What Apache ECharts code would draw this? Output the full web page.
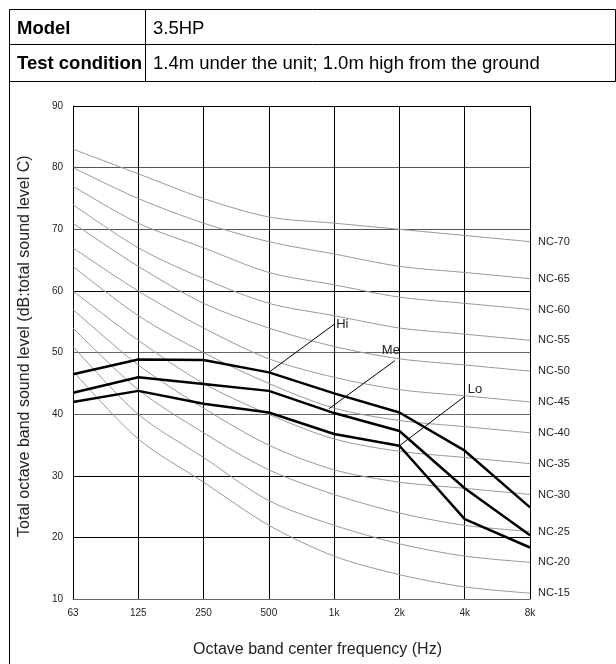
<!DOCTYPE html>
<html>
<head>
<meta charset="utf-8">
<style>
  html, body { margin: 0; padding: 0; background: #fff; }
  #chart { width: 616px; height: 664px; }
</style>
<script src="https://cdn.jsdelivr.net/npm/echarts@6/dist/echarts.min.js"></script>
</head>
<body>
<div id="chart"></div>
<script>
// octave band centre frequencies
const freqs = ['63', '125', '250', '500', '1k', '2k', '4k', '8k'];

// NC reference curves (dB at each band)
const ncNames = ['NC-70', 'NC-65', 'NC-60', 'NC-55', 'NC-50', 'NC-45', 'NC-40', 'NC-35', 'NC-30', 'NC-25', 'NC-20', 'NC-15'];
const ncValues = [
  [83, 79, 75, 72, 71, 70, 69, 68],
  [80, 75, 71, 68, 66, 64, 63, 62],
  [77, 71, 67, 63, 61, 59, 58, 57],
  [74, 67, 62, 58, 56, 54, 53, 52],
  [71, 64, 58, 54, 51, 49, 48, 47],
  [67, 60, 54, 49, 46, 44, 43, 42],
  [64, 56, 50, 45, 41, 39, 38, 37],
  [60, 52, 45, 40, 36, 34, 33, 32],
  [57, 48, 41, 35, 31, 29, 28, 27],
  [54, 44, 37, 31, 27, 24, 22, 21],
  [51, 40, 33, 26, 22, 19, 17, 16],
  [47, 36, 29, 22, 17, 14, 12, 11]
];

// measured sound levels per fan speed
const hi = [46.5, 48.9, 48.8, 46.8, 43.4, 40.3, 34.1, 24.9];
const me = [43.5, 46.0, 44.9, 43.8, 40.2, 37.3, 28.0, 20.4];
const lo = [42.0, 43.8, 41.7, 40.3, 36.8, 34.9, 23.0, 18.4];

// leader lines for the Hi / Me / Lo labels: [band index, dB]
const hiLeader = [[3, 46.8], [4, 54.6]];
const meLeader = [[3.92, 40.9], [4.93, 48.7]];
const loLeader = [[5, 34.9], [6, 42.9]];

// header table texts
const tableRows = [
  ['Model', '3.5HP'],
  ['Test condition', '1.4m under the unit; 1.0m high from the ground']
];

const font = '"Liberation Sans", Arial, sans-serif';
const chart = echarts.init(document.getElementById('chart'));

const ncSeries = ncNames.map((name, i) => ({
  name: name,
  type: 'line',
  data: ncValues[i],
  smooth: 0.3,
  symbol: 'none',
  lineStyle: { color: '#999', width: 1 },
  endLabel: {
    show: true,
    formatter: '{a}',
    distance: 8,
    fontSize: 11,
    color: '#222',
    fontFamily: font
  },
  silent: true,
  z: 2
}));

const levelSeries = [hi, me, lo].map((d, i) => ({
  name: ['Hi', 'Me', 'Lo'][i],
  type: 'line',
  data: d,
  symbol: 'none',
  lineStyle: { color: '#000', width: 2.5 },
  z: 4
}));

// thin leader line, text label sits on its upper end
const leader = (pts, text, label) => ({
  type: 'line',
  xAxisIndex: 1,
  symbol: 'circle',
  symbolSize: 0,
  showSymbol: true,
  lineStyle: { color: '#000', width: 1 },
  data: [
    pts[0],
    { value: pts[1], label: Object.assign({ show: true, formatter: text, fontSize: 13, color: '#222', fontFamily: font }, label) }
  ],
  z: 5
});

// table frame lines
const L = 9.5, R = 615.5, T = 9.5, R1 = 44.5, R2 = 81.5, C = 145.5;
const seg = (x1, y1, x2, y2) => ({
  type: 'line',
  shape: { x1, y1, x2, y2 },
  style: { stroke: '#000', lineWidth: 1 }
});
const tableGraphics = [
  seg(L, T, R, T), seg(L, R1, R, R1), seg(L, R2, R, R2),
  seg(L, T, L, 664), seg(R, T, R, R2), seg(C, T, C, R2)
];
tableRows.forEach((row, i) => {
  const cy = i === 0 ? 29.5 : 64.5;
  tableGraphics.push({
    type: 'text', left: 17, top: cy - 10.5,
    style: { text: row[0], font: 'bold 18.5px ' + font, fill: '#000' }
  });
  tableGraphics.push({
    type: 'text', left: 153, top: cy - 10.5,
    style: { text: row[1], font: '18.5px ' + font, fill: '#000' }
  });
});

const option = {
  animation: false,
  backgroundColor: '#fff',
  graphic: tableGraphics,
  grid: { left: 73, right: 86, top: 106, bottom: 64.7 },
  xAxis: [{
    type: 'category',
    data: freqs,
    boundaryGap: false,
    axisLine: { show: true, lineStyle: { color: '#666', width: 1 } },
    axisTick: { show: false },
    axisLabel: { margin: 9, fontSize: 10, color: '#222', fontFamily: font },
    splitLine: { show: true, lineStyle: { color: '#000', width: 1 } },
    name: 'Octave band center frequency (Hz)',
    nameLocation: 'middle',
    nameGap: 42,
    nameTextStyle: { fontSize: 16, color: '#222', fontFamily: font, padding: [0, 0, 0, 32] }
  }, {
    type: 'value',
    min: 0,
    max: 7,
    show: false
  }],
  yAxis: {
    type: 'value',
    min: 10,
    max: 90,
    interval: 10,
    axisLine: { show: true, lineStyle: { color: '#000', width: 1 } },
    axisTick: { show: false },
    axisLabel: { margin: 10, fontSize: 10, color: '#222', fontFamily: font },
    splitLine: {
      show: true,
      lineStyle: { color: ['#000', '#000', '#000', '#666', '#666', '#000', '#555', '#555', '#000'], width: 1 }
    },
    name: 'Total octave band sound level (dB:total sound level C)',
    nameLocation: 'middle',
    nameGap: 40,
    nameTextStyle: { fontSize: 16, color: '#222', fontFamily: font, padding: [0, 0, 0, 13] }
  },
  series: ncSeries.concat(levelSeries, [
    leader(hiLeader, 'Hi', { position: 'right', distance: 2 }),
    leader(meLeader, 'Me', { position: 'top', distance: 4, offset: [-4, 0] }),
    leader(loLeader, 'Lo', { position: 'right', distance: 3, offset: [0, -7] })
  ])
};

chart.setOption(option);
</script>
</body>
</html>
